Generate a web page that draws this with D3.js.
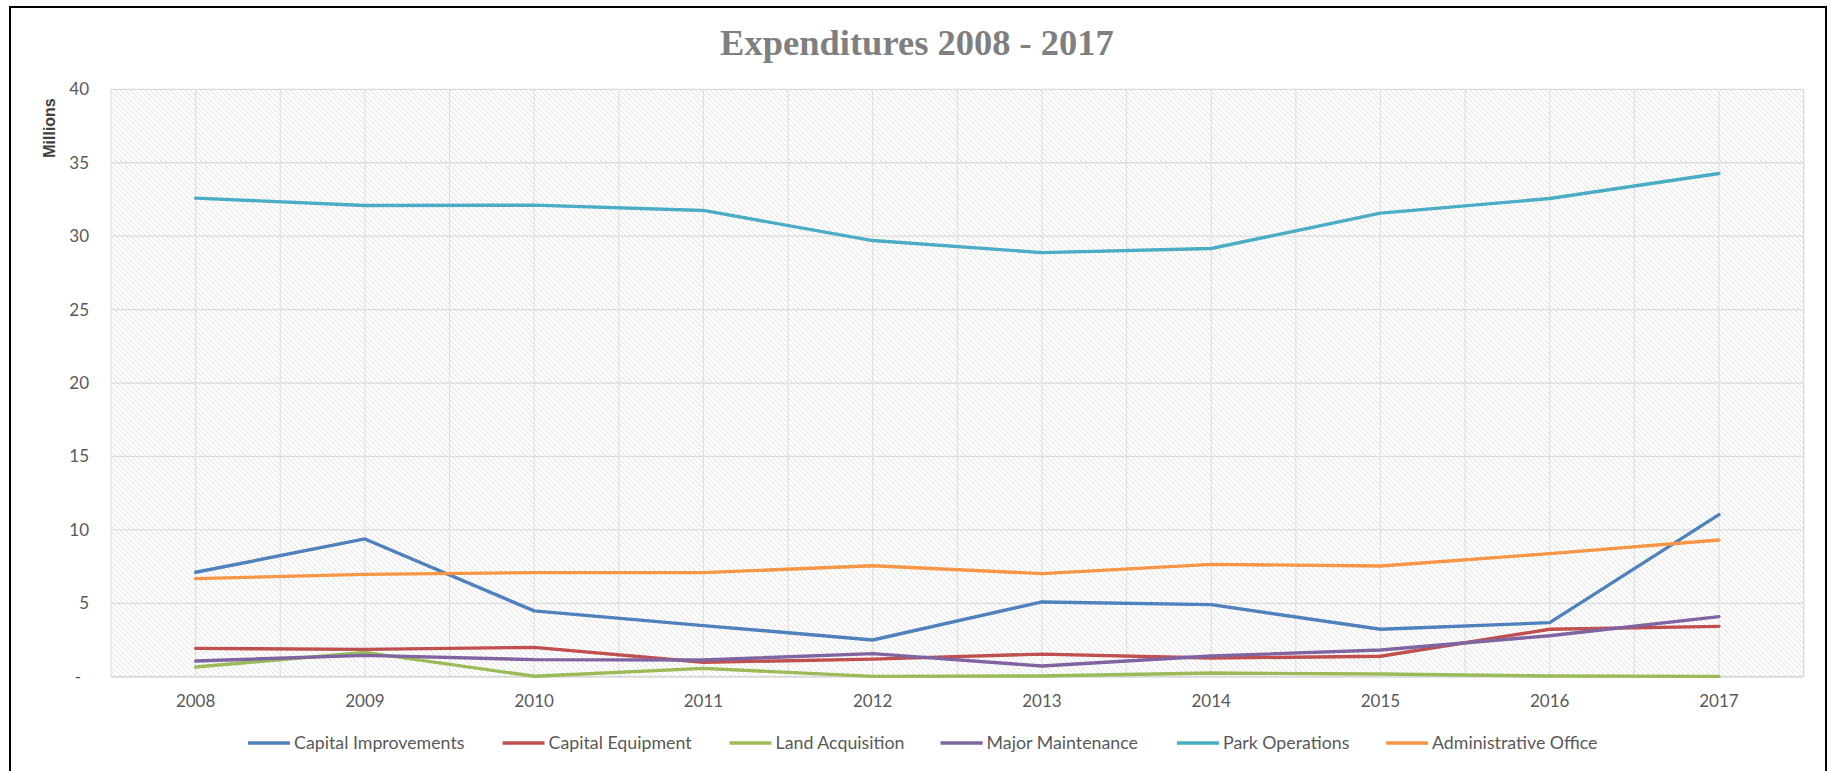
<!DOCTYPE html>
<html>
<head>
<meta charset="utf-8">
<script src="https://cdn.jsdelivr.net/npm/d3@7"></script>
<style>
  html, body { margin: 0; padding: 0; background: #ffffff; }
  svg { display: block; }
</style>
</head>
<body>
<svg id="chart" width="1831" height="771"></svg>
<script>
// ---------- data ----------
const years = ["2008", "2009", "2010", "2011", "2012", "2013", "2014", "2015", "2016", "2017"];
const seriesNames = ["Capital Improvements", "Capital Equipment", "Land Acquisition", "Major Maintenance", "Park Operations", "Administrative Office"];
const capitalImprovements = [7.11, 9.38, 4.48, 3.48, 2.50, 5.09, 4.91, 3.23, 3.68, 11.04];
const capitalEquipment    = [1.93, 1.86, 2.00, 0.98, 1.20, 1.54, 1.27, 1.39, 3.23, 3.43];
const landAcquisition     = [0.66, 1.66, 0.03, 0.57, 0.02, 0.05, 0.25, 0.18, 0.05, 0.02];
const majorMaintenance    = [1.07, 1.45, 1.16, 1.14, 1.57, 0.73, 1.41, 1.82, 2.79, 4.09];
const parkOperations      = [32.59, 32.09, 32.11, 31.75, 29.70, 28.88, 29.16, 31.57, 32.56, 34.27];
const administrativeOffice= [6.68, 6.97, 7.09, 7.09, 7.56, 7.02, 7.65, 7.54, 8.38, 9.31];
const yTicks = [0, 5, 10, 15, 20, 25, 30, 35, 40];
const yTickLabels = ["-", "5", "10", "15", "20", "25", "30", "35", "40"];
const seriesColors = ["#4F81BD", "#C0504D", "#9BBB59", "#8064A2", "#4BACC6", "#F79646"];
const titleText = "Expenditures 2008 - 2017";
const yAxisTitle = "Millions";

const seriesValues = [capitalImprovements, capitalEquipment, landAcquisition, majorMaintenance, parkOperations, administrativeOffice];
const series = seriesNames.map((name, i) => ({ name, color: seriesColors[i], values: seriesValues[i] }));

// ---------- layout ----------
const plot = { left: 111, right: 1803.6, top: 89.3, bottom: 676.7 };
const legendStarts = [248, 502.5, 729.5, 940.6, 1177, 1386];
const textFont = "Lato, 'Liberation Sans', sans-serif";
const textColor = "#595959";

const svg = d3.select("#chart");

// pattern for hatched plot background
const defs = svg.append("defs");
const pat = defs.append("pattern")
  .attr("id", "hatch")
  .attr("patternUnits", "userSpaceOnUse")
  .attr("width", 5).attr("height", 5);
pat.append("rect").attr("width", 5).attr("height", 5).attr("fill", "#ffffff");
pat.append("path")
  .attr("d", "M-1,-1 L6,6 M-1,4 L1,6 M4,-1 L6,1")
  .attr("stroke", "#dcdcdc").attr("stroke-width", 0.9);

// outer border
svg.append("rect")
  .attr("x", 10).attr("y", 7).attr("width", 1816).attr("height", 820)
  .attr("fill", "none").attr("stroke", "#000").attr("stroke-width", 2);

// scales
const x = d3.scalePoint().domain(years).range([plot.left, plot.right]).padding(0.5);
const xGrid = d3.scaleLinear().domain([0, years.length]).range([plot.left, plot.right]);
const y = d3.scaleLinear().domain([0, 40]).range([plot.bottom, plot.top]);

// plot background
svg.append("rect")
  .attr("x", plot.left).attr("y", plot.top)
  .attr("width", plot.right - plot.left).attr("height", plot.bottom - plot.top)
  .attr("fill", "url(#hatch)");

// horizontal gridlines
svg.append("g").selectAll("line").data(yTicks.slice(1)).join("line")
  .attr("x1", plot.left).attr("x2", plot.right)
  .attr("y1", d => y(d)).attr("y2", d => y(d))
  .attr("stroke", "#dcdcdc").attr("stroke-width", 1.3);

// vertical gridlines (at category centres and boundaries)
const vLines = d3.range(0, years.length + 0.01, 0.5);
svg.append("g").selectAll("line").data(vLines).join("line")
  .attr("x1", d => xGrid(d)).attr("x2", d => xGrid(d))
  .attr("y1", plot.top).attr("y2", plot.bottom)
  .attr("stroke", "#e0e0e0").attr("stroke-width", 1.2);

// plot border right
svg.append("line")
  .attr("x1", plot.right).attr("x2", plot.right).attr("y1", plot.top).attr("y2", plot.bottom)
  .attr("stroke", "#d9d9d9").attr("stroke-width", 1.2);

// x axis line
svg.append("line")
  .attr("x1", plot.left).attr("x2", plot.right)
  .attr("y1", plot.bottom).attr("y2", plot.bottom)
  .attr("stroke", "#d9d9d9").attr("stroke-width", 2);

// y tick labels
svg.append("g").selectAll("text").data(yTicks).join("text")
  .attr("x", (d, i) => i === 0 ? 81 : 89)
  .attr("y", d => y(d))
  .attr("dy", "0.35em")
  .attr("text-anchor", "end")
  .attr("font-family", textFont).attr("font-size", 17)
  .attr("fill", textColor)
  .text((d, i) => yTickLabels[i]);

// x tick labels
svg.append("g").selectAll("text").data(years).join("text")
  .attr("x", d => x(d))
  .attr("y", 707)
  .attr("text-anchor", "middle")
  .attr("font-family", textFont).attr("font-size", 17)
  .attr("fill", textColor)
  .text(d => d);

// y axis title
svg.append("text")
  .attr("transform", "translate(55,128) rotate(-90)")
  .attr("text-anchor", "middle")
  .attr("font-family", "'Liberation Sans', Arial, sans-serif")
  .attr("font-weight", "bold").attr("font-size", 16)
  .attr("fill", "#404040")
  .text(yAxisTitle);

// title
svg.append("text")
  .attr("x", 917).attr("y", 55)
  .attr("text-anchor", "middle")
  .attr("font-family", "'Liberation Serif', 'DejaVu Serif', serif")
  .attr("font-weight", "bold").attr("font-size", 36.5)
  .attr("fill", "#7f7f7f")
  .text(titleText);

// lines
const line = d3.line()
  .x((d, i) => x(years[i]))
  .y(d => y(d));

svg.append("g").selectAll("path").data(series).join("path")
  .attr("d", s => line(s.values))
  .attr("fill", "none")
  .attr("stroke", s => s.color)
  .attr("stroke-width", 3.4)
  .attr("stroke-linejoin", "round")
  .attr("stroke-linecap", "round");

// legend
const legendY = 743;
const sampleLen = 42, sampleGap = 4;
const items = svg.append("g").selectAll("g").data(series).join("g")
  .attr("transform", (s, i) => `translate(${legendStarts[i]},${legendY})`);
items.append("line")
  .attr("x1", 0).attr("x2", sampleLen)
  .attr("y1", 0).attr("y2", 0)
  .attr("stroke", s => s.color).attr("stroke-width", 3.5);
items.append("text")
  .attr("x", sampleLen + sampleGap)
  .attr("y", 0).attr("dy", "0.35em")
  .attr("font-family", textFont).attr("font-size", 17.8)
  .attr("fill", textColor)
  .text(s => s.name);
</script>
</body>
</html>
